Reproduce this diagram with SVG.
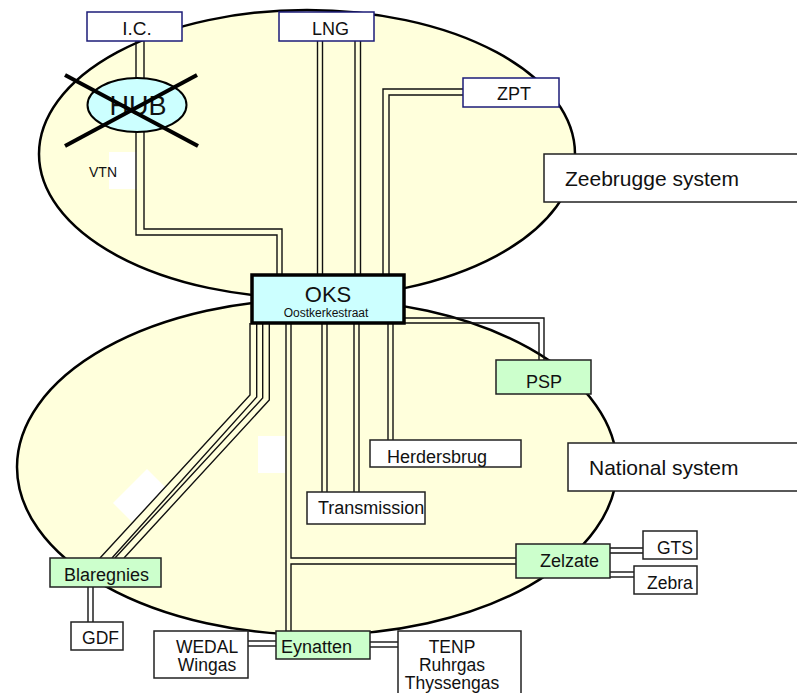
<svg xmlns="http://www.w3.org/2000/svg" width="797" height="693" viewBox="0 0 797 693">
<style>
text{font-family:"Liberation Sans",Arial,sans-serif;fill:#111}
.zone{fill:#ffffdc;stroke:#000;stroke-width:2.5}
.blank{fill:#fff;stroke:none}
.p{fill:none;stroke:#111;stroke-width:1.4}
.nv{fill:#fff;stroke:#1c1c78;stroke-width:1.5}
.wb{fill:#fff;stroke:#222;stroke-width:1.5}
.gb{fill:#ccffcc;stroke:#222;stroke-width:1.5}
.t18{font-size:18px}
.t17{font-size:17.5px}
.big{font-size:21px}
</style>
<rect width="797" height="693" fill="#fff"/>
<g id="zeebrugge-zone">
<ellipse class="zone" cx="307" cy="154" rx="268" ry="144"/>
<rect class="blank" x="109" y="152" width="28" height="37"/>
</g>
<g id="national-zone">
<ellipse class="zone" cx="317" cy="467" rx="300" ry="168"/>
<rect class="blank" x="258" y="436" width="27" height="37"/>
<polygon class="blank" points="113,503 147,469 166,488 132,522"/>
</g>
<g id="connectors">
<polyline class="p" points="136,41 136,235 277,235 277,275"/>
<polyline class="p" points="144,41 144,229 282,229 282,275"/>
<line class="p" x1="317.5" y1="41" x2="317.5" y2="275"/>
<line class="p" x1="322.5" y1="41" x2="322.5" y2="275"/>
<line class="p" x1="355" y1="41" x2="355" y2="275"/>
<line class="p" x1="360.5" y1="41" x2="360.5" y2="275"/>
<polyline class="p" points="463,89 383,89 383,275"/>
<polyline class="p" points="463,95 389,95 389,275"/>
<polyline class="p" points="404,318 544,318 544,360"/>
<polyline class="p" points="404,323 539,323 539,360"/>
<line class="p" x1="388" y1="323" x2="388" y2="440"/>
<line class="p" x1="393" y1="323" x2="393" y2="440"/>
<line class="p" x1="322" y1="323" x2="322" y2="492"/>
<line class="p" x1="327" y1="323" x2="327" y2="492"/>
<line class="p" x1="354" y1="323" x2="354" y2="492"/>
<line class="p" x1="359" y1="323" x2="359" y2="492"/>
<line class="p" x1="286" y1="323" x2="286" y2="631"/>
<polyline class="p" points="291,323 291,558 516,558"/>
<polyline class="p" points="516,564 291,564 291,631"/>
<polyline class="p" points="250,323 250,395 100,558"/>
<polyline class="p" points="256.7,323 256.7,397 112,558"/>
<polyline class="p" points="262.7,323 262.7,398 115,558"/>
<polyline class="p" points="269.3,323 269.3,400 124,558"/>
<line class="p" x1="88" y1="587" x2="88" y2="622"/>
<line class="p" x1="93" y1="587" x2="93" y2="622"/>
<line class="p" x1="248" y1="641" x2="276" y2="641"/>
<line class="p" x1="248" y1="646" x2="276" y2="646"/>
<line class="p" x1="370" y1="642" x2="398" y2="642"/>
<line class="p" x1="370" y1="647" x2="398" y2="647"/>
<line class="p" x1="610" y1="548" x2="643" y2="548"/>
<line class="p" x1="610" y1="553" x2="643" y2="553"/>
<line class="p" x1="610" y1="572" x2="634" y2="572"/>
<line class="p" x1="610" y1="577" x2="634" y2="577"/>
</g>
<g id="vtn"><text x="89" y="177" font-size="14">VTN</text></g>
<g id="ic"><rect class="nv" x="87" y="12" width="95" height="29"/><text x="137" y="35" font-size="19" text-anchor="middle">I.C.</text></g>
<g id="lng"><rect class="nv" x="279" y="12" width="95" height="29"/><text class="t18" x="330.5" y="35" text-anchor="middle">LNG</text></g>
<g id="zpt"><rect class="nv" x="463" y="78" width="96" height="29"/><text class="t18" x="514" y="100" text-anchor="middle">ZPT</text></g>
<g id="zeebrugge-label"><rect class="wb" x="544" y="154" width="260" height="48"/><text class="big" x="565" y="186">Zeebrugge system</text></g>
<g id="national-label"><rect class="wb" x="568" y="443" width="235" height="48"/><text class="big" x="589" y="475">National system</text></g>
<g id="oks"><rect x="252" y="275" width="152" height="48" fill="#ccffff" stroke="#000" stroke-width="3.5"/><text x="328" y="302" font-size="22" text-anchor="middle">OKS</text><text x="326" y="317" font-size="12" text-anchor="middle">Oostkerkestraat</text></g>
<g id="psp"><rect class="gb" x="496" y="360" width="95" height="34"/><text class="t18" x="544" y="388" text-anchor="middle">PSP</text></g>
<g id="herdersbrug"><rect class="wb" x="370" y="440" width="151" height="27"/><text class="t18" x="387" y="463">Herdersbrug</text></g>
<g id="transmission"><rect class="wb" x="307" y="492" width="118" height="32"/><text class="t18" x="318" y="514">Transmission</text></g>
<g id="blaregnies"><rect class="gb" x="50" y="558" width="111" height="29"/><text class="t18" x="64" y="581">Blaregnies</text></g>
<g id="gdf"><rect class="wb" x="71" y="622" width="52" height="28"/><text class="t17" x="100.5" y="644" text-anchor="middle">GDF</text></g>
<g id="wedal"><rect class="wb" x="154" y="631" width="94" height="47"/><text class="t17" x="207" y="653" text-anchor="middle">WEDAL</text><text class="t17" x="207" y="671" text-anchor="middle">Wingas</text></g>
<g id="eynatten"><rect class="gb" x="276" y="631" width="94" height="28"/><text class="t18" x="281" y="653">Eynatten</text></g>
<g id="tenp"><rect class="wb" x="398" y="631" width="123" height="70"/><text class="t17" x="452" y="653" text-anchor="middle">TENP</text><text class="t17" x="452" y="671" text-anchor="middle">Ruhrgas</text><text class="t17" x="452" y="689" text-anchor="middle">Thyssengas</text></g>
<g id="zelzate"><rect class="gb" x="516" y="544" width="94" height="34"/><text class="t18" x="540" y="567">Zelzate</text></g>
<g id="gts"><rect class="wb" x="643" y="531" width="54" height="28"/><text class="t17" x="657" y="554">GTS</text></g>
<g id="zebra"><rect class="wb" x="634" y="566" width="63" height="28"/><text class="t17" x="647" y="589">Zebra</text></g>
<g id="hub"><ellipse cx="137" cy="105" rx="49.5" ry="27" fill="#ccffff" stroke="#000" stroke-width="2"/><text x="138" y="115" font-size="27" text-anchor="middle">HUB</text>
<line x1="65" y1="75" x2="198" y2="146" stroke="#000" stroke-width="4"/><line x1="197" y1="75" x2="65" y2="146" stroke="#000" stroke-width="4"/></g>
</svg>
